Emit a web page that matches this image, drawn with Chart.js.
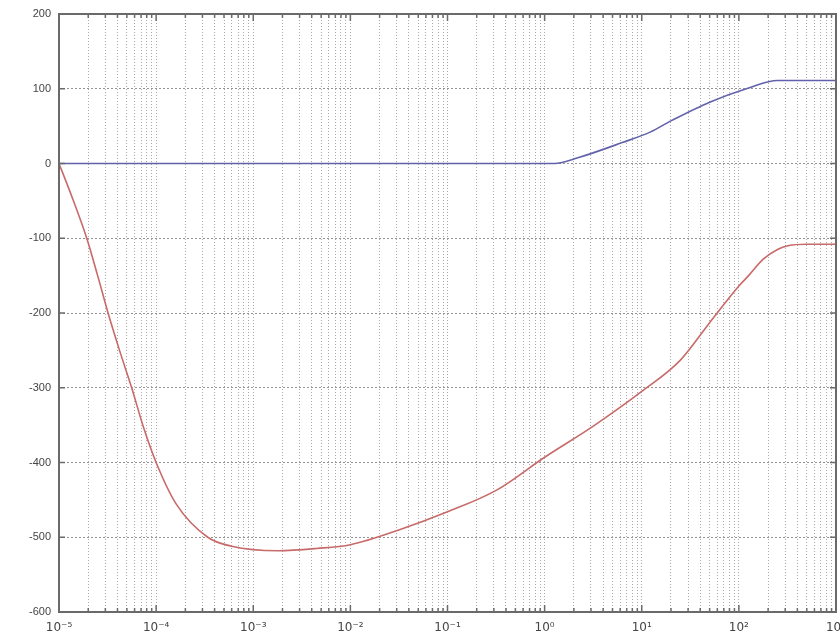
<!DOCTYPE html>
<html>
<head>
<meta charset="utf-8">
<script src="https://cdn.jsdelivr.net/npm/chart.js@4.4.1/dist/chart.umd.min.js"></script>
<style>
  html, body { margin: 0; padding: 0; background: #ffffff; }
  canvas { display: block; }
</style>
</head>
<body>
<canvas id="bode" width="840" height="644"></canvas>
<script>
// Decades shown on the logarithmic frequency axis and the value axis ticks
const decadeExponents = [-5, -4, -3, -2, -1, 0, 1, 2, 3];
const minorSteps = [2, 3, 4, 5, 6, 7, 8, 9];
const yTickValues = [200, 100, 0, -100, -200, -300, -400, -500, -600];

// Red curve
const redFreq = [1e-5, 1.3e-5, 1.93e-5, 2.5e-5, 3.2e-5, 4.2e-5, 5.6e-5, 7.5e-5, 1e-4, 1.6e-4,
                 3.4e-4, 6e-4, 1.8e-3, 4.5e-3, 1e-2, 3.2e-2, 0.1, 0.32, 1,
                 3.2, 10, 25, 50, 100, 126, 178, 250, 320, 500, 1000];
const redValues = [0, -38, -100, -150, -200, -250, -300, -355, -400, -455,
                   -500, -512, -518, -515, -510, -490, -466, -437, -393,
                   -351, -305, -263, -213, -164, -150, -128, -115, -110, -108, -108];

// Blue curve
const blueFreq = [1e-5, 1e-3, 0.1, 1.26, 2.24, 6.3, 12.2, 20, 50, 126, 250, 500, 1000];
const blueValues = [0, 0, 0, 0, 8, 28, 42, 57, 82, 101, 111, 111, 111];

const toPoints = (xs, ys) => xs.map((x, i) => ({ x: x, y: ys[i] }));

// Full set of log grid positions: every decade plus 2..9 within each decade
const xGridValues = [];
decadeExponents.forEach((e, i) => {
  xGridValues.push(Math.pow(10, e));
  if (i < decadeExponents.length - 1) {
    minorSteps.forEach(m => xGridValues.push(m * Math.pow(10, e)));
  }
});

const supDigits = { '-': '\u207B', '0': '\u2070', '1': '\u00B9', '2': '\u00B2', '3': '\u00B3',
                    '4': '\u2074', '5': '\u2075', '6': '\u2076', '7': '\u2077', '8': '\u2078', '9': '\u2079' };
const powerLabel = e => '10' + String(e).split('').map(c => supDigits[c]).join('');
const isDecade = v => Math.abs(Math.log10(v) - Math.round(Math.log10(v))) < 1e-9;

// Frame with inward tick marks, drawn from the scales' own pixel positions
const framePlugin = {
  id: 'frame',
  afterDatasetsDraw(chart) {
    const { ctx, chartArea: a, scales } = chart;
    ctx.save();
    ctx.strokeStyle = '#6a6a6a';
    ctx.lineWidth = 1.5;
    ctx.beginPath();
    scales.x.ticks.forEach(t => {
      const px = scales.x.getPixelForValue(t.value);
      const len = isDecade(t.value) ? 7 : 4;
      ctx.moveTo(px, a.bottom); ctx.lineTo(px, a.bottom - len);
      ctx.moveTo(px, a.top); ctx.lineTo(px, a.top + len);
    });
    scales.y.ticks.forEach(t => {
      const py = scales.y.getPixelForValue(t.value);
      ctx.moveTo(a.left, py); ctx.lineTo(a.left + 6, py);
      ctx.moveTo(a.right, py); ctx.lineTo(a.right - 6, py);
    });
    ctx.stroke();
    ctx.lineWidth = 2;
    ctx.strokeRect(a.left, a.top, a.right - a.left, a.bottom - a.top);
    ctx.restore();
  }
};

new Chart(document.getElementById('bode'), {
  type: 'line',
  data: {
    datasets: [
      {
        data: toPoints(blueFreq, blueValues),
        borderColor: '#6262ac',
        borderWidth: 1.6,
        pointRadius: 0,
        cubicInterpolationMode: 'monotone'
      },
      {
        data: toPoints(redFreq, redValues),
        borderColor: '#c86a6a',
        borderWidth: 1.6,
        pointRadius: 0,
        cubicInterpolationMode: 'monotone'
      }
    ]
  },
  options: {
    responsive: false,
    animation: false,
    events: [],
    layout: { padding: { top: 14, right: 4, left: 0, bottom: 0 } },
    plugins: {
      legend: { display: false },
      tooltip: { enabled: false },
      title: { display: false }
    },
    scales: {
      x: {
        type: 'logarithmic',
        min: Math.pow(10, decadeExponents[0]),
        max: Math.pow(10, decadeExponents[decadeExponents.length - 1]),
        afterBuildTicks: scale => { scale.ticks = xGridValues.map(v => ({ value: v, major: isDecade(v) })); },
        afterFit: scale => { scale.height = 32; scale.paddingLeft = 0; scale.paddingRight = 0; },
        border: { display: false, dash: [1, 2] },
        grid: { color: 'rgba(140,140,140,0.75)', lineWidth: 1, drawTicks: false },
        ticks: {
          autoSkip: false,
          maxRotation: 0,
          padding: 9,
          color: '#444',
          font: { family: 'DejaVu Sans', size: 12 },
          callback: v => isDecade(v) ? powerLabel(Math.round(Math.log10(v))) : ''
        }
      },
      y: {
        type: 'linear',
        min: yTickValues[yTickValues.length - 1],
        max: yTickValues[0],
        afterBuildTicks: scale => { scale.ticks = yTickValues.map(v => ({ value: v })); },
        afterFit: scale => { scale.width = 59; scale.paddingTop = 0; scale.paddingBottom = 0; },
        border: { display: false, dash: [2, 2] },
        grid: { color: 'rgba(120,120,120,0.8)', lineWidth: 1, drawTicks: false },
        ticks: {
          padding: 8,
          color: '#444',
          font: { family: 'Liberation Sans', size: 11 },
          callback: v => String(v)
        }
      }
    }
  },
  plugins: [framePlugin]
});
</script>
</body>
</html>
